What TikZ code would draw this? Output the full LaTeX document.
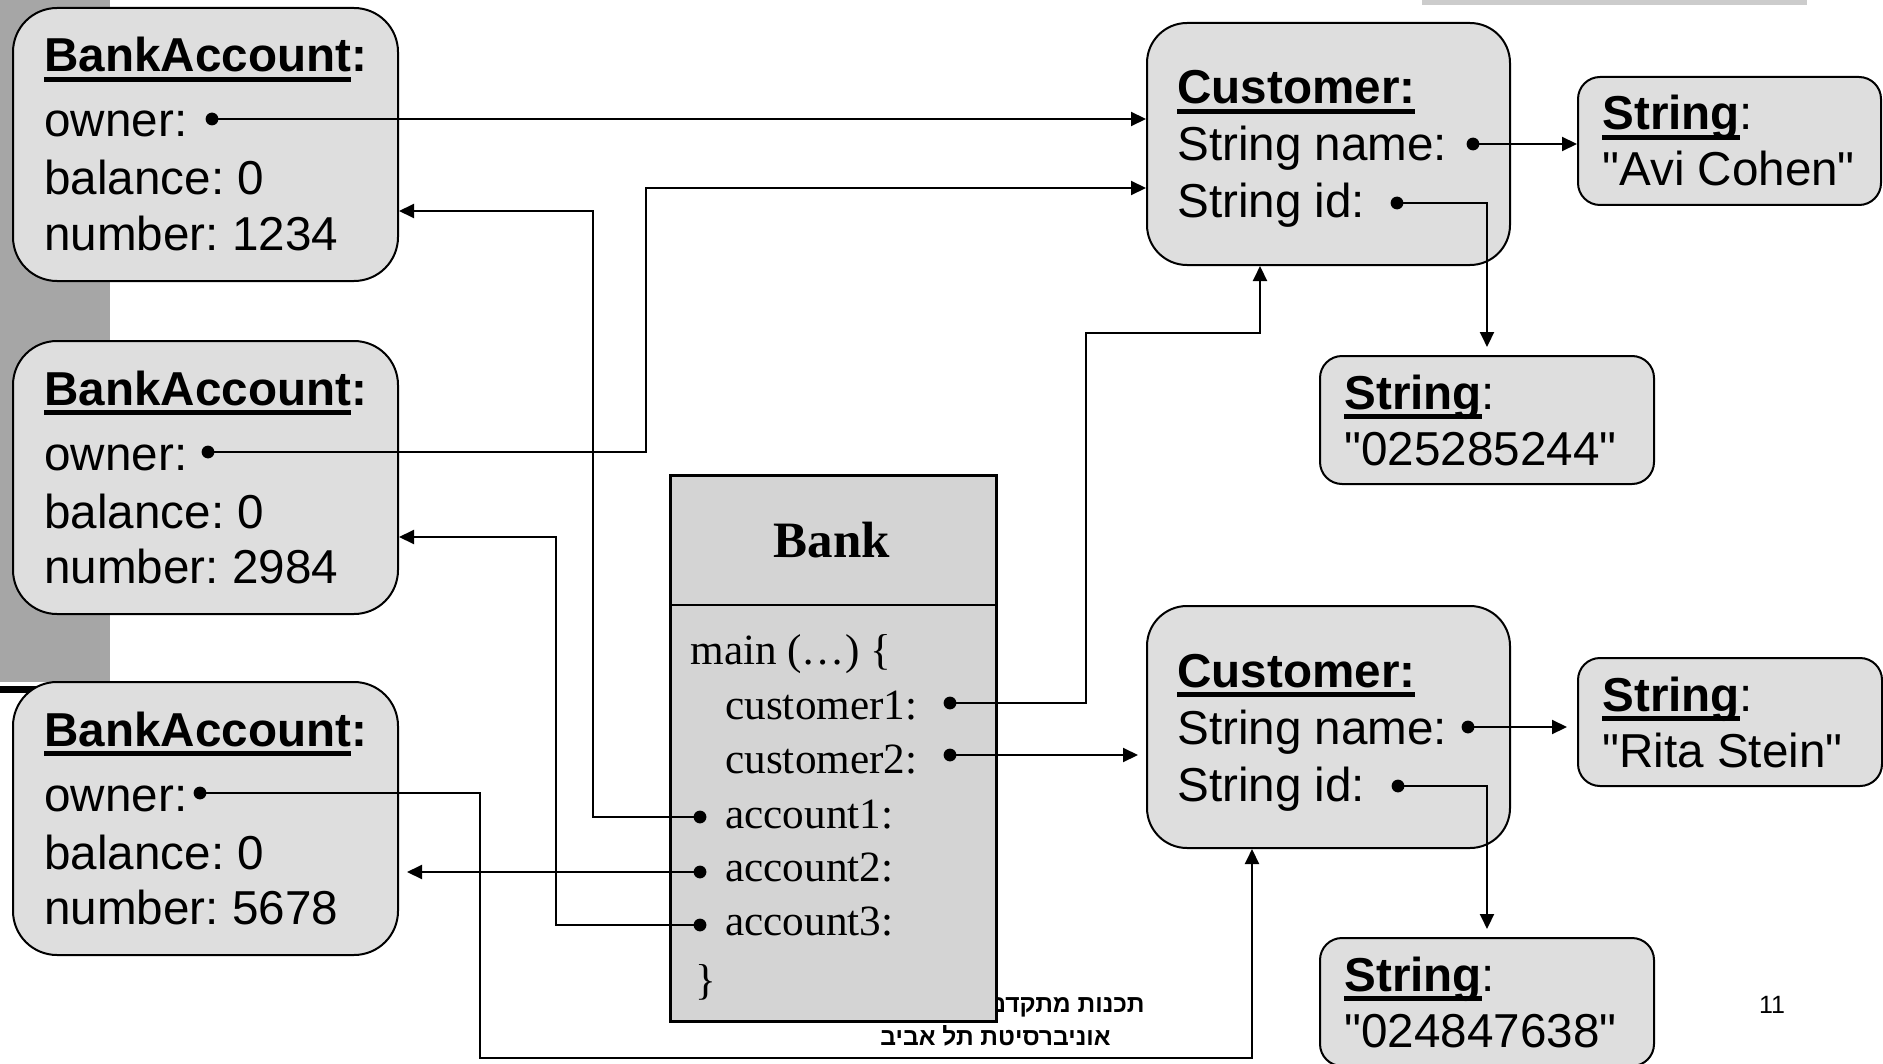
\documentclass[tikz,border=0pt]{standalone}
\usepackage{fontspec}
\setmainfont{Liberation Sans}[Ligatures=TeXOff]
\newfontfamily\bankfont{Liberation Serif}
\newfontfamily\hebfont[Script=Hebrew]{Liberation Sans}
\usetikzlibrary{arrows.meta}
\TeXXeTstate=1
\frenchspacing
\definecolor{boxfill}{gray}{0.87}
\definecolor{bankfill}{gray}{0.83}
\definecolor{bargray}{gray}{0.65}
\definecolor{linegray}{gray}{0.8}
\newcommand{\uln}[1]{\setbox0=\hbox{#1}\rlap{\rule[-5pt]{\wd0}{2.5pt}}\box0}

\begin{document}
\begin{tikzpicture}[x=0.5pt,y=-0.5pt,
  obj/.style={draw,line width=1pt,fill=boxfill,inner sep=0pt,anchor=north west},
  txt/.style={anchor=base west,inner sep=0pt,font=\fontsize{23.8pt}{28pt}\selectfont},
  code/.style={anchor=base west,inner sep=0pt,font=\bankfont\fontsize{21.6pt}{26pt}\selectfont},
  ref/.style={line width=1pt,-{Triangle[length=7.5pt,width=7pt]}},
  foot/.style={anchor=base east,inner sep=0pt,font=\hebfont\bfseries\fontsize{12.3pt}{15pt}\selectfont}]
\useasboundingbox (0,0) rectangle (1883,1064);
% slide background
\fill[bargray] (0,0) rectangle (110,682);
\fill (0,686) rectangle (110,693);
\fill[linegray] (1422,0) rectangle (1807,5);
\node[foot] (foot1) at (1145,1012) {\beginR תכנות מתקדם\endR};
\node[foot] (foot2) at (1111,1045) {\beginR אוניברסיטת תל אביב\endR};
\node[anchor=base,inner sep=0pt,font=\fontsize{12.5pt}{15pt}\selectfont] (pagenum) at (1772,1013) {11};

% bank accounts
\foreach \k/\y/\n/\d in {1/7/1234/212,2/340/2984/208,3/681/5678/200}{
  \node[obj,rounded corners=22pt,minimum width=192.5pt,minimum height=136.5pt] (acc\k) at (12,\y) {};
  \node[txt] (acc\k-title) at (44,\y+65) {\uln{\textbf{BankAccount}}\textbf{:}};
  \node[txt] (acc\k-owner) at (44,\y+130) {owner:};
  \node[txt] (acc\k-bal) at (44,\y+188) {balance: 0};
  \node[txt] (acc\k-num) at (44,\y+243) {number: \n};
  \coordinate (own\k) at (\d,\y+112);
}

% customers
\foreach \k/\y/\nx/\ix in {1/22/1473/1397,2/605/1468/1398}{
  \node[obj,rounded corners=20pt,minimum width=181.5pt,minimum height=121pt] (cust\k) at (1146,\y) {};
  \node[txt] (cust\k-title) at (1177,\y+82) {\uln{\textbf{Customer:}}};
  \node[txt] (cust\k-name) at (1177,\y+139) {String name:};
  \node[txt] (cust\k-id) at (1177,\y+196) {String id:};
  \coordinate (name\k) at (\nx,\y+122);
  \coordinate (id\k) at (\ix,\y+181);
}

% strings
\foreach \k/\x/\y/\w/\s in {1/1577/76/151.5/"Avi Cohen",2/1319/355/167/"025285244",
    3/1319/937/167/"024847638",4/1577/657/152/"Rita Stein"}{
  \node[obj,rounded corners=11pt,minimum width=\w pt,minimum height=64pt] (str\k) at (\x,\y) {};
  \node[txt] (str\k-title) at (\x+25,\y+54) {\uln{\textbf{String}}:};
  \node[txt] (str\k-val) at (\x+25,\y+110) {\s};
}

% the bank
\node[draw,line width=1.4pt,fill=bankfill,inner sep=0pt,anchor=north west,
  minimum width=163pt,minimum height=273pt] (bank) at (669,474) {};
\draw[line width=1.4pt] (bank.west |- 0,605) -- (bank.east |- 0,605);
\node[anchor=base,inner sep=0pt,font=\bankfont\bfseries\fontsize{25.5pt}{30pt}\selectfont] (bankname) at (832,557) {Bank};
\node[code] (main) at (690,664) {main (…) \{};
\node[code] (c1) at (725,719) {customer1:};
\node[code] (c2) at (725,773) {customer2:};
\node[code] (a1) at (725,828) {account1:};
\node[code] (a2) at (725,881) {account2:};
\node[code] (a3) at (725,935) {account3:};
\node[code] (close) at (695,994) {\}};
\coordinate (cust1p) at (950,703);
\coordinate (cust2p) at (950,755);
\coordinate (acc1p) at (700,817);
\coordinate (acc2p) at (700,872);
\coordinate (acc3p) at (700,925);

% references
\draw[ref] (own1) -- (own1 -| cust1.west);
\draw[ref] (own2) -| (646,188) -- (cust1.west |- 0,188);
\draw[ref] (own3) -| (480,1058) -| (cust2.south -| 1252,0);
\draw[ref] (cust1p) -| (1086,333) -| (cust1.south -| 1260,0);
\draw[ref,shorten >=4pt] (cust2p) -- (cust2p -| cust2.west);
\draw[ref] (acc1p) -| (593,211) -- (acc1.east |- 0,211);
\draw[ref,shorten >=4pt] (acc2p) -- (acc2p -| acc3.east);
\draw[ref] (acc3p) -| (556,537) -- (acc2.east |- 0,537);
\draw[ref] (name1) -- (name1 -| str1.west);
\draw[ref,shorten >=4pt] (id1) -| (str2.north -| 1487,0);
\draw[ref,shorten >=5pt] (name2) -- (name2 -| str4.west);
\draw[ref,shorten >=4pt] (id2) -| (str3.north -| 1487,0);
\foreach \p in {own1,own2,own3,name1,id1,name2,id2,cust1p,cust2p,acc1p,acc2p,acc3p}
  \fill (\p) circle (3.2pt);
\end{tikzpicture}
\end{document}
